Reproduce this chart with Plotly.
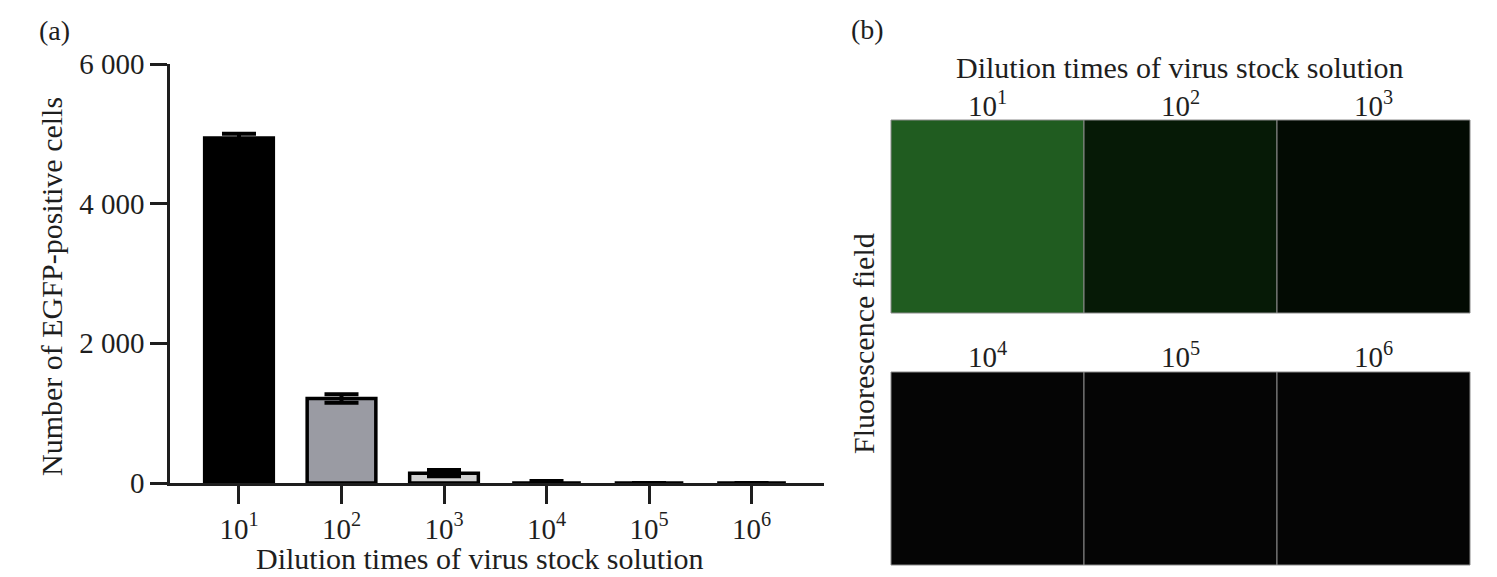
import plotly.graph_objects as go

W, H = 1497, 577

# ---- data: panel (a) ----
dilutions = ["10<sup>1</sup>", "10<sup>2</sup>", "10<sup>3</sup>",
             "10<sup>4</sup>", "10<sup>5</sup>", "10<sup>6</sup>"]
egfp_cells = [4940, 1210, 140, 0, 0, 0]
egfp_err = [60, 60, 45, 30, 0, 0]
y_ticks = [0, 2000, 4000, 6000]
y_tick_text = ["0", "2 000", "4 000", "6 000"]

# ---- panel (b) labels ----
row1_labels = ["10<sup>1</sup>", "10<sup>2</sup>", "10<sup>3</sup>"]
row2_labels = ["10<sup>4</sup>", "10<sup>5</sup>", "10<sup>6</sup>"]

bar_colors = ["#000000", "#9a9ba3", "#d2d2d2", "#ffffff", "#ffffff", "#ffffff"]
row1_fill = ["#205c20", "#061a06", "#030b03"]
row2_fill = ["#050505", "#050505", "#050505"]

FONT = "Liberation Serif"
INK = "#1e1e1e"


def px(x):
    return x / W


def py(y):
    return 1 - y / H


fig = go.Figure()

err_minus = [min(e, v) for v, e in zip(egfp_cells, egfp_err)]
fig.add_trace(go.Bar(
    x=dilutions, y=egfp_cells, width=0.67,
    marker=dict(color=bar_colors, line=dict(color="#000000", width=3.5)),
    error_y=dict(type="data", symmetric=False, array=egfp_err, arrayminus=err_minus,
                 color="#000000", thickness=4, width=17),
    showlegend=False,
))

fig.update_layout(
    width=W, height=H,
    margin=dict(l=0, r=0, t=0, b=0, autoexpand=False),
    paper_bgcolor="white", plot_bgcolor="white",
    font=dict(family=FONT, size=30, color=INK),
    xaxis=dict(domain=[px(170), px(824)], range=[-0.673, 5.707], automargin=False,
               showline=True, linewidth=2.5, linecolor=INK,
               ticks="outside", ticklen=18, tickwidth=2.5, tickcolor=INK,
               showgrid=False, zeroline=False, fixedrange=True,
               tickfont=dict(size=29), ticklabelstandoff=0),
    yaxis=dict(domain=[py(483), py(64)], range=[0, 6000], automargin=False,
               tickvals=y_ticks, ticktext=y_tick_text,
               showline=True, linewidth=2.5, linecolor=INK,
               ticks="outside", ticklen=17, tickwidth=2.5, tickcolor=INK,
               showgrid=False, zeroline=False, fixedrange=True,
               tickfont=dict(size=29)),
)

annotations = [
    dict(text="(a)", x=px(54), y=py(30), font=dict(size=28)),
    dict(text="(b)", x=px(867), y=py(29), font=dict(size=28)),
    dict(text="Number of EGFP-positive cells", x=px(51), y=py(287), textangle=-90),
    dict(text="Dilution times of virus stock solution", x=px(480), y=py(558)),
    dict(text="Dilution times of virus stock solution", x=px(1180), y=py(67)),
    dict(text="Fluorescence field", x=px(863), y=py(344), textangle=-90),
]

# ---- panel (b): image grid ----
col_edges = [891, 1084, 1277, 1470]
row_tops = [120, 372]
row_h = 193
label_y = [104, 355]
shapes = []
for r, (labels, fills) in enumerate([(row1_labels, row1_fill), (row2_labels, row2_fill)]):
    top = row_tops[r]
    for c in range(3):
        x0, x1 = col_edges[c], col_edges[c + 1]
        shapes.append(dict(type="rect", xref="paper", yref="paper",
                           x0=px(x0), x1=px(x1), y0=py(top + row_h), y1=py(top),
                           fillcolor=fills[c], line=dict(color="#8a8a8a", width=1),
                           layer="above"))
        annotations.append(dict(text=labels[c], x=px((x0 + x1) / 2), y=py(label_y[r]),
                                font=dict(size=29)))

for a in annotations:
    a.update(xref="paper", yref="paper", showarrow=False,
             xanchor="center", yanchor="middle")

fig.update_layout(annotations=annotations, shapes=shapes)

fig.write_html("out.html", config={"displayModeBar": False},
               post_script="document.body.style.margin='0';")
